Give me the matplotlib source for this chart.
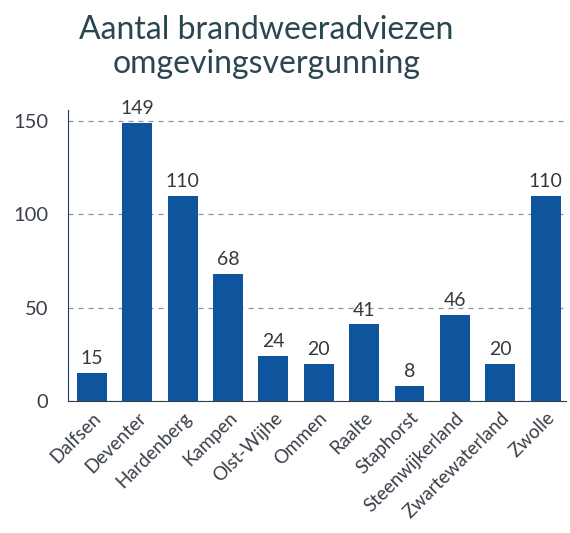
import matplotlib
matplotlib.use("Agg")
import matplotlib.pyplot as plt

# gemeenten en aantallen adviezen
gemeenten = ["Dalfsen", "Deventer", "Hardenberg", "Kampen", "Olst-Wijhe", "Ommen",
             "Raalte", "Staphorst", "Steenwijkerland", "Zwartewaterland", "Zwolle"]
aantallen = [15, 149, 110, 68, 24, 20, 41, 8, 46, 20, 110]
yticks = [0, 50, 100, 150]

plt.rcParams['font.family'] = ['Lato', 'DejaVu Sans']

fig = plt.figure(figsize=(5.70, 5.33), dpi=100)
ax = fig.add_axes([0.119, 0.248, 0.874, 0.546])

bars = ax.bar(range(len(gemeenten)), aantallen, width=0.66, color="#0f559e", zorder=3)
for b, v in zip(bars, aantallen):
    ax.text(b.get_x() + b.get_width() / 2, v + 3, str(v), ha="center", va="bottom",
            fontsize=14, color="#333a40")

ax.set_ylim(0, 156)
ax.set_xlim(-0.53, 10.45)
ax.set_yticks(yticks)
ax.set_xticks(range(len(gemeenten)))
ax.set_xticklabels(gemeenten, rotation=45, ha="right", rotation_mode="anchor",
                   fontsize=13.5, color="#3a4048")
ax.tick_params(axis="y", labelsize=14.5, labelcolor="#3a4048", length=0, pad=14)
ax.tick_params(axis="x", length=0, pad=6)
ax.grid(axis="y", linestyle=(0, (4, 4)), color="#8a9098", linewidth=0.9, zorder=0)

for s in ["top", "right"]:
    ax.spines[s].set_visible(False)
ax.spines["left"].set_color("#1a3a66")
ax.spines["bottom"].set_color("#3a4048")

fig.text(0.467, 0.972, "Aantal brandweeradviezen\nomgevingsvergunning", ha="center", va="top",
         fontsize=23, color="#2b4650", linespacing=1.15)

fig.savefig("out.png", dpi=100)
